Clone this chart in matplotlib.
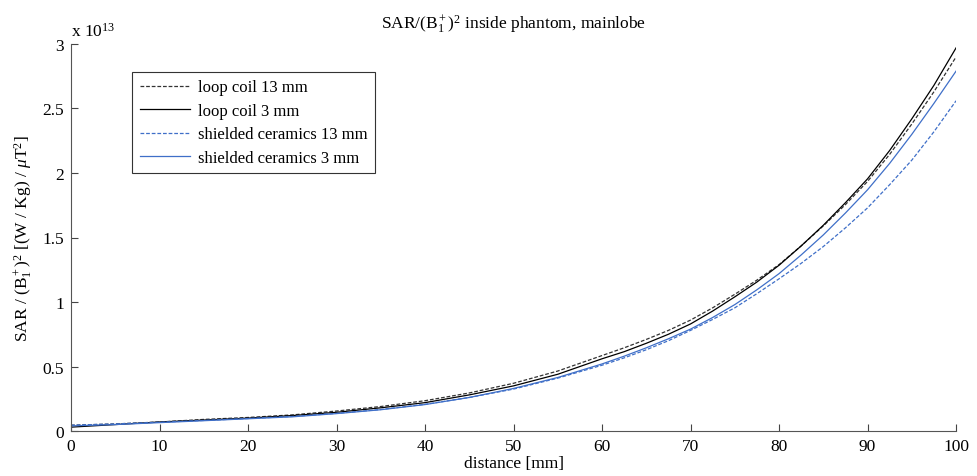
import numpy as np
import matplotlib
matplotlib.use("Agg")
import matplotlib.pyplot as plt

plt.rcParams['font.family'] = ['Liberation Serif', 'DejaVu Serif']
plt.rcParams['mathtext.fontset'] = 'custom'
plt.rcParams['mathtext.rm'] = 'Liberation Serif'
plt.rcParams['mathtext.it'] = 'Liberation Serif:italic'
plt.rcParams['font.size'] = 12.5

# distance [mm]
distance = [0, 5, 10, 15, 20, 25, 30, 35, 40, 45, 50, 55, 60,
            62.5, 65, 67.5, 70, 72.5, 75, 77.5, 80, 82.5, 85, 87.5, 90, 92.5, 95, 97.5, 100]

# SAR/(B1+)^2 in units of 1e13
loop_13 = [0.045, 0.055, 0.07, 0.09, 0.105, 0.125, 0.155, 0.19, 0.235, 0.295, 0.37, 0.465, 0.585,
           0.645, 0.71, 0.78, 0.86, 0.955, 1.06, 1.17, 1.29, 1.435, 1.59, 1.755, 1.935, 2.145, 2.38, 2.63, 2.90]
loop_3 = [0.03, 0.05, 0.07, 0.085, 0.10, 0.12, 0.145, 0.18, 0.22, 0.28, 0.35, 0.44, 0.56,
          0.615, 0.68, 0.75, 0.83, 0.93, 1.04, 1.155, 1.285, 1.435, 1.595, 1.77, 1.955, 2.175, 2.42, 2.68, 2.97]
cer_13 = [0.045, 0.055, 0.068, 0.082, 0.097, 0.113, 0.137, 0.167, 0.207, 0.26, 0.325, 0.41, 0.51,
          0.567, 0.63, 0.70, 0.78, 0.865, 0.955, 1.065, 1.18, 1.30, 1.43, 1.575, 1.73, 1.91, 2.10, 2.32, 2.56]
cer_3 = [0.04, 0.05, 0.065, 0.08, 0.095, 0.11, 0.135, 0.165, 0.205, 0.26, 0.33, 0.415, 0.52,
         0.58, 0.645, 0.715, 0.79, 0.88, 0.98, 1.095, 1.22, 1.365, 1.52, 1.69, 1.87, 2.075, 2.30, 2.54, 2.79]

blue = '#3f6fc8'

fig = plt.figure(figsize=(9.78, 4.77), dpi=100)
ax = fig.add_axes([0.0726, 0.0943, 0.905, 0.8114])

ax.plot(distance, loop_13, '--', color='#333333', lw=0.9, dashes=(3, 1.5), label='loop coil 13 mm')
ax.plot(distance, loop_3, '-', color='black', lw=0.9, label='loop coil 3 mm')
ax.plot(distance, cer_13, '--', color=blue, lw=0.9, dashes=(3, 1.5), label='shielded ceramics 13 mm')
ax.plot(distance, cer_3, '-', color=blue, lw=0.9, label='shielded ceramics 3 mm')

ax.set_xlim(0, 100)
ax.set_ylim(0, 3)
ax.set_xticks(range(0, 101, 10))
ax.set_yticks([0, 0.5, 1, 1.5, 2, 2.5, 3])
ax.set_yticklabels(['0', '0.5', '1', '1.5', '2', '2.5', '3'])
ax.spines['top'].set_visible(False)
ax.spines['right'].set_visible(False)
ax.spines['left'].set_color('#555555')
ax.spines['bottom'].set_color('#555555')
ax.tick_params(direction='in', length=5, width=0.8, color='#444444', labelsize=12.5, pad=5)

ax.text(0.0, 1.01, r'x 10$^{13}$', transform=ax.transAxes, fontsize=12.5, va='bottom', ha='left')

ax.set_xlabel('distance [mm]', fontsize=12.5, labelpad=1)
ax.set_ylabel(r'SAR / (B$_1^+$)$^2$ [(W / Kg) / $\mu$T$^2$]', fontsize=12.5, labelpad=6)
ax.set_title(r'SAR/(B$_1^+$)$^2$ inside phantom, mainlobe', fontsize=12.5, pad=12)

leg = ax.legend(loc='upper left', bbox_to_anchor=(0.069, 0.928), fontsize=12,
                frameon=True, fancybox=False, edgecolor='#333333', framealpha=1,
                borderaxespad=0, handlelength=3.0, borderpad=0.45, labelspacing=0.45,
                handletextpad=0.5)
leg.get_frame().set_linewidth(0.8)

fig.savefig('out.png', dpi=100)
